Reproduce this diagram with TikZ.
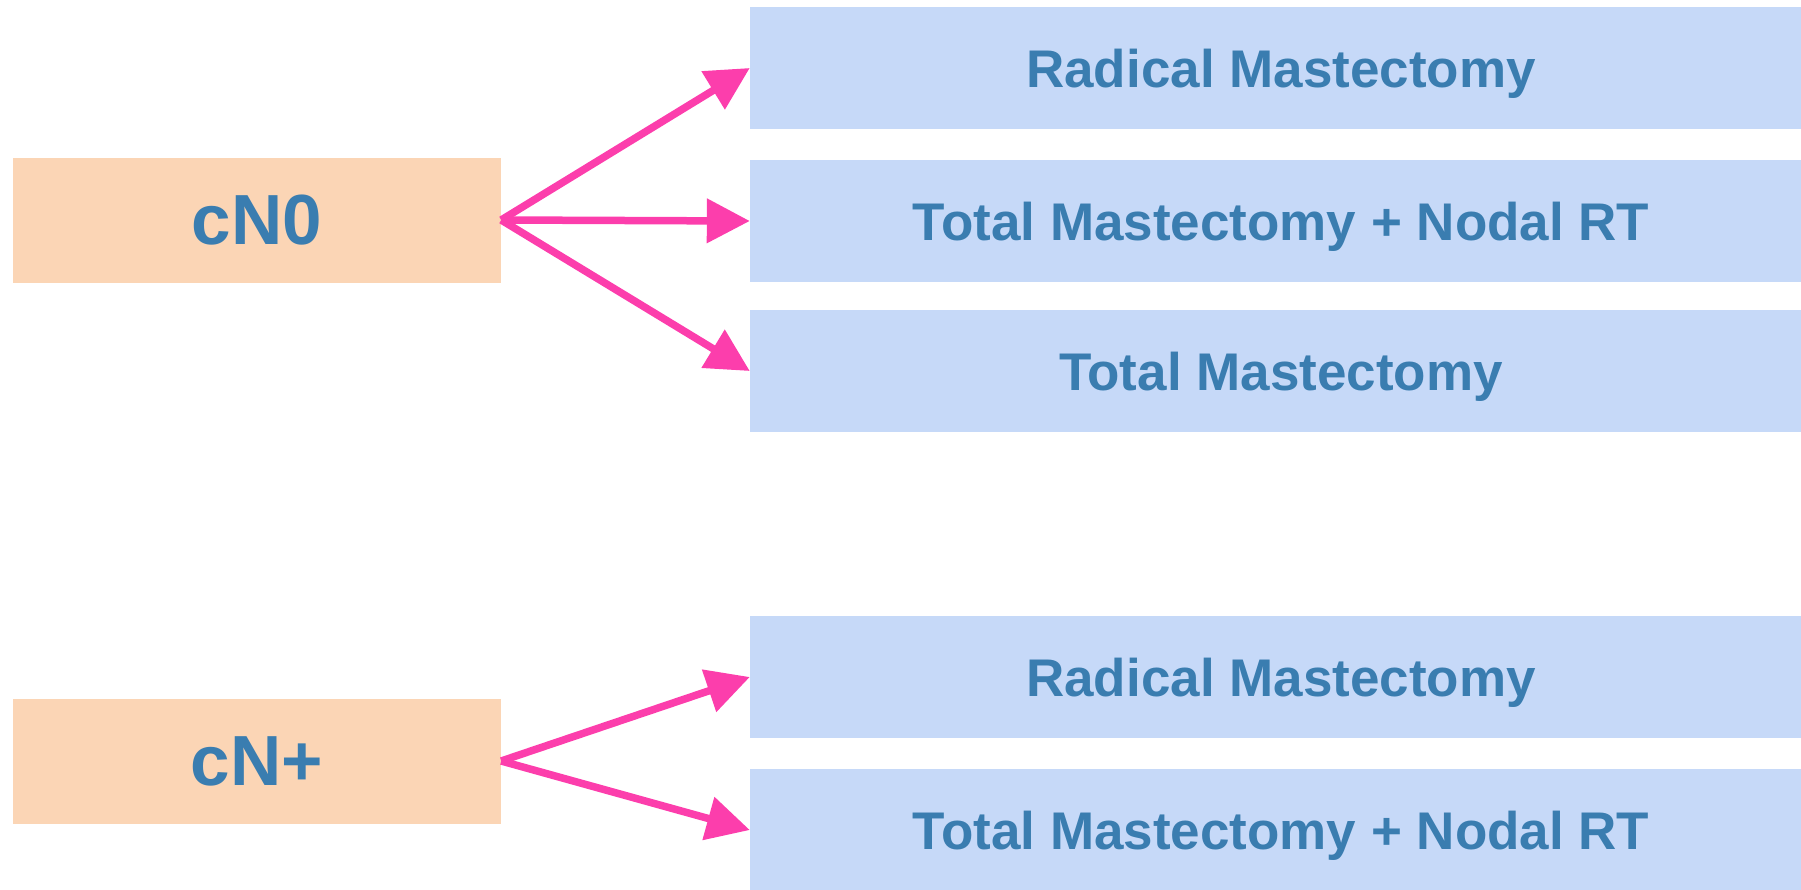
\documentclass[tikz,border=0pt]{standalone}
\usepackage{fontspec}
\setmainfont{Liberation Sans}
\usetikzlibrary{arrows.meta}
\definecolor{stagefill}{RGB}{251,213,181}
\definecolor{optfill}{RGB}{198,217,248}
\definecolor{txtblue}{RGB}{58,125,176}
\definecolor{arrpink}{RGB}{252,62,172}
\begin{document}
\begin{tikzpicture}[x=1pt,y=-1pt,
  stage/.style={fill=stagefill,inner sep=0pt,minimum width=488pt,minimum height=125pt,
    text depth=0pt,text=txtblue,font=\fontsize{71}{78}\selectfont\bfseries},
  opt/.style={fill=optfill,inner sep=0pt,minimum width=1062pt,minimum height=122pt,
    text depth=0pt,text=txtblue,font=\fontsize{53}{60}\selectfont\bfseries},
  link/.style={arrpink,line width=7.5pt,-{Triangle[length=43pt,width=43pt]}}]
\useasboundingbox (0,0) rectangle (1801,889);
% node stages
\node[stage] (n0) at (257,220) {cN0};
\node[stage] (np) at (257,761) {cN+};
% surgical options
\node[opt] (a1) at (1281,68) {Radical Mastectomy};
\node[opt] (a2) at (1281,221) {Total Mastectomy + Nodal RT};
\node[opt] (a3) at (1281,371) {Total Mastectomy};
\node[opt] (b1) at (1281,677) {Radical Mastectomy};
\node[opt] (b2) at (1281,830) {Total Mastectomy + Nodal RT};
% arrows
\draw[link] (n0.east) -- (a1.west);
\draw[link] (n0.east) -- (a2.west);
\draw[link] (n0.east) -- (a3.west);
\draw[link] (np.east) -- (b1.west);
\draw[link] (np.east) -- (b2.west);
\end{tikzpicture}
\end{document}
